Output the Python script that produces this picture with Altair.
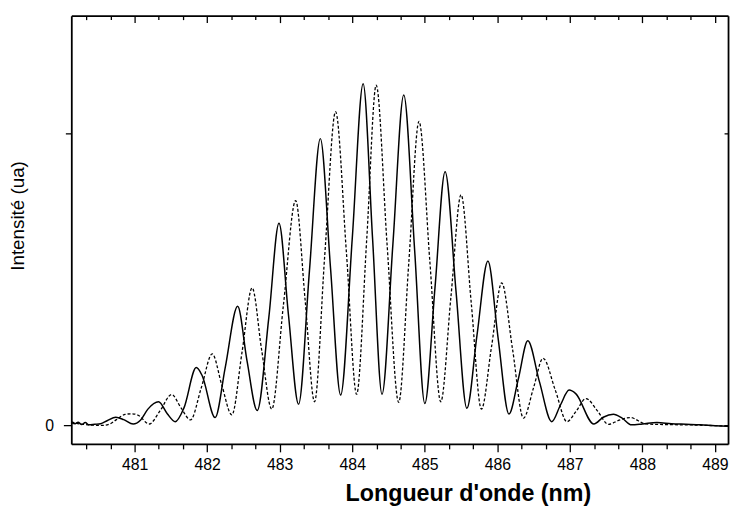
import altair as alt
import pandas as pd

# Solid curve (wavelength nm, intensity a.u.)
solid_x = [480.13, 480.18, 480.22, 480.27, 480.32, 480.37, 480.45, 480.53, 480.62, 480.74,
           480.85, 480.98, 481.08, 481.18, 481.33, 481.45, 481.56, 481.68, 481.85, 481.93,
           482.11, 482.25, 482.42, 482.55, 482.69, 482.85, 482.99, 483.12, 483.26, 483.41,
           483.56, 483.70, 483.84, 484.00, 484.15, 484.28, 484.41, 484.56, 484.71, 484.86,
           485.00, 485.14, 485.28, 485.43, 485.58, 485.72, 485.87, 486.01, 486.16, 486.29,
           486.42, 486.58, 486.75, 486.87, 486.99, 487.08, 487.33, 487.46, 487.60, 487.72,
           487.85, 488.00, 488.20, 488.40, 488.60, 488.80, 489.00, 489.18]
solid_y = [0.010, 0.006, 0.011, 0.003, 0.010, 0.002, 0.004, 0.006, 0.016, 0.028,
           0.020, 0.005, 0.018, 0.055, 0.081, 0.040, 0.013, 0.060, 0.198, 0.171,
           0.027, 0.200, 0.408, 0.220, 0.051, 0.370, 0.692, 0.380, 0.073, 0.530,
           0.982, 0.540, 0.104, 0.640, 1.170, 0.640, 0.107, 0.620, 1.131, 0.600,
           0.075, 0.470, 0.869, 0.460, 0.059, 0.310, 0.563, 0.300, 0.039, 0.160,
           0.290, 0.150, 0.013, 0.070, 0.121, 0.109, 0.005, 0.028, 0.038, 0.025,
           0.002, 0.005, 0.010, 0.006, 0.004, 0.002, -0.001, -0.003]

# Dashed curve
dashed_x = [480.13, 480.20, 480.28, 480.36, 480.45, 480.55, 480.65, 480.75, 480.87, 480.96,
            481.05, 481.20, 481.35, 481.51, 481.64, 481.77, 481.92, 482.07, 482.20, 482.34,
            482.48, 482.62, 482.75, 482.89, 483.05, 483.22, 483.35, 483.48, 483.62, 483.77,
            483.92, 484.06, 484.20, 484.33, 484.48, 484.64, 484.78, 484.92, 485.07, 485.22,
            485.36, 485.50, 485.64, 485.78, 485.92, 486.06, 486.21, 486.36, 486.50, 486.63,
            486.80, 486.96, 487.09, 487.22, 487.38, 487.53, 487.68, 487.83, 488.05, 488.30,
            488.60, 488.90, 489.18]
dashed_y = [0.012, 0.007, 0.004, 0.002, 0.001, 0.000, 0.004, 0.020, 0.038, 0.040,
            0.035, 0.005, 0.050, 0.106, 0.060, 0.019, 0.130, 0.245, 0.140, 0.036,
            0.250, 0.471, 0.260, 0.056, 0.410, 0.770, 0.430, 0.081, 0.580, 1.074,
            0.590, 0.107, 0.640, 1.165, 0.620, 0.079, 0.560, 1.041, 0.560, 0.081,
            0.440, 0.790, 0.420, 0.056, 0.270, 0.488, 0.260, 0.025, 0.130, 0.230,
            0.120, 0.013, 0.050, 0.092, 0.050, 0.004, 0.018, 0.027, 0.005, 0.003,
            0.002, 0.000, -0.002]

# Axis ticks
x_tick_values = [480.3333, 480.6667, 481, 481.3333, 481.6667, 482, 482.3333, 482.6667, 483,
                 483.3333, 483.6667, 484, 484.3333, 484.6667, 485, 485.3333, 485.6667, 486,
                 486.3333, 486.6667, 487, 487.3333, 487.6667, 488, 488.3333, 488.6667, 489]
y_tick_values = [0, 1]
x_domain = [480.127, 489.18]
y_domain = [-0.0633, 1.403]

W, H = 664, 433
FONT = "Liberation Sans"
is_major = "abs(datum.value - round(datum.value)) < 0.01"

df_solid = pd.DataFrame({"x": solid_x, "y": solid_y})
df_dashed = pd.DataFrame({"x": dashed_x, "y": dashed_y})

xscale = alt.Scale(domain=x_domain, nice=False, zero=False)
yscale = alt.Scale(domain=y_domain, nice=False, zero=False)

common_axis = dict(grid=False, domainColor="black", domainWidth=1.8, tickColor="black",
                   tickWidth=1.3, labelColor="black", labelFont=FONT, labelFontSize=16,
                   titleColor="black", titleFont=FONT, labelOverlap=False, labelFlush=False)

x_bottom = alt.Axis(orient="bottom", values=x_tick_values,
                    labelExpr=is_major + " ? format(datum.value, 'd') : ''",
                    tickSize={"condition": {"test": is_major, "value": 8}, "value": 5},
                    labelPadding=5,
                    title="Longueur d'onde (nm)", titleFontSize=23.5, titleFontWeight="bold",
                    titleX=401, titleY=57, titleAlign="center", titleBaseline="alphabetic",
                    **common_axis)
y_left = alt.Axis(orient="left", values=y_tick_values,
                  labelExpr="datum.value == 0 ? '0' : ''",
                  tickSize={"condition": {"test": "datum.value == 0", "value": 8}, "value": 6},
                  labelPadding=10,
                  title="Intensité (ua)", titleFontSize=19, titleFontWeight="normal",
                  titleX=-54, titleY=202, titleAngle=-90, titleAlign="center",
                  titleBaseline="middle", **common_axis)
x_top = alt.Axis(orient="bottom", offset=-H, values=x_tick_values, labels=False,
                 tickSize={"condition": {"test": is_major, "value": 7}, "value": 4},
                 title="", **common_axis)
y_right = alt.Axis(orient="left", offset=-W, values=y_tick_values, labels=False,
                   tickSize=4, title="", **common_axis)

solid = alt.Chart(df_solid).mark_line(color="black", strokeWidth=1.5,
                                      interpolate="monotone", clip=True).encode(
    x=alt.X("x:Q", scale=xscale, axis=x_bottom),
    y=alt.Y("y:Q", scale=yscale, axis=y_left),
)
dashed = alt.Chart(df_dashed).mark_line(color="black", strokeWidth=1.3, strokeDash=[3, 2],
                                        interpolate="monotone", clip=True).encode(
    x=alt.X("x:Q", scale=xscale, axis=x_top),
    y=alt.Y("y:Q", scale=yscale, axis=y_right),
)

chart = alt.layer(solid, dashed).resolve_axis(x="independent", y="independent").properties(
    width=W, height=H,
    autosize=alt.AutoSizeParams(type="none"),
    padding={"left": 64, "top": 5, "right": 3, "bottom": 60},
    background="white",
).configure_view(strokeWidth=0)

chart.save("out.html", embed_options={"renderer": "svg", "actions": False})
